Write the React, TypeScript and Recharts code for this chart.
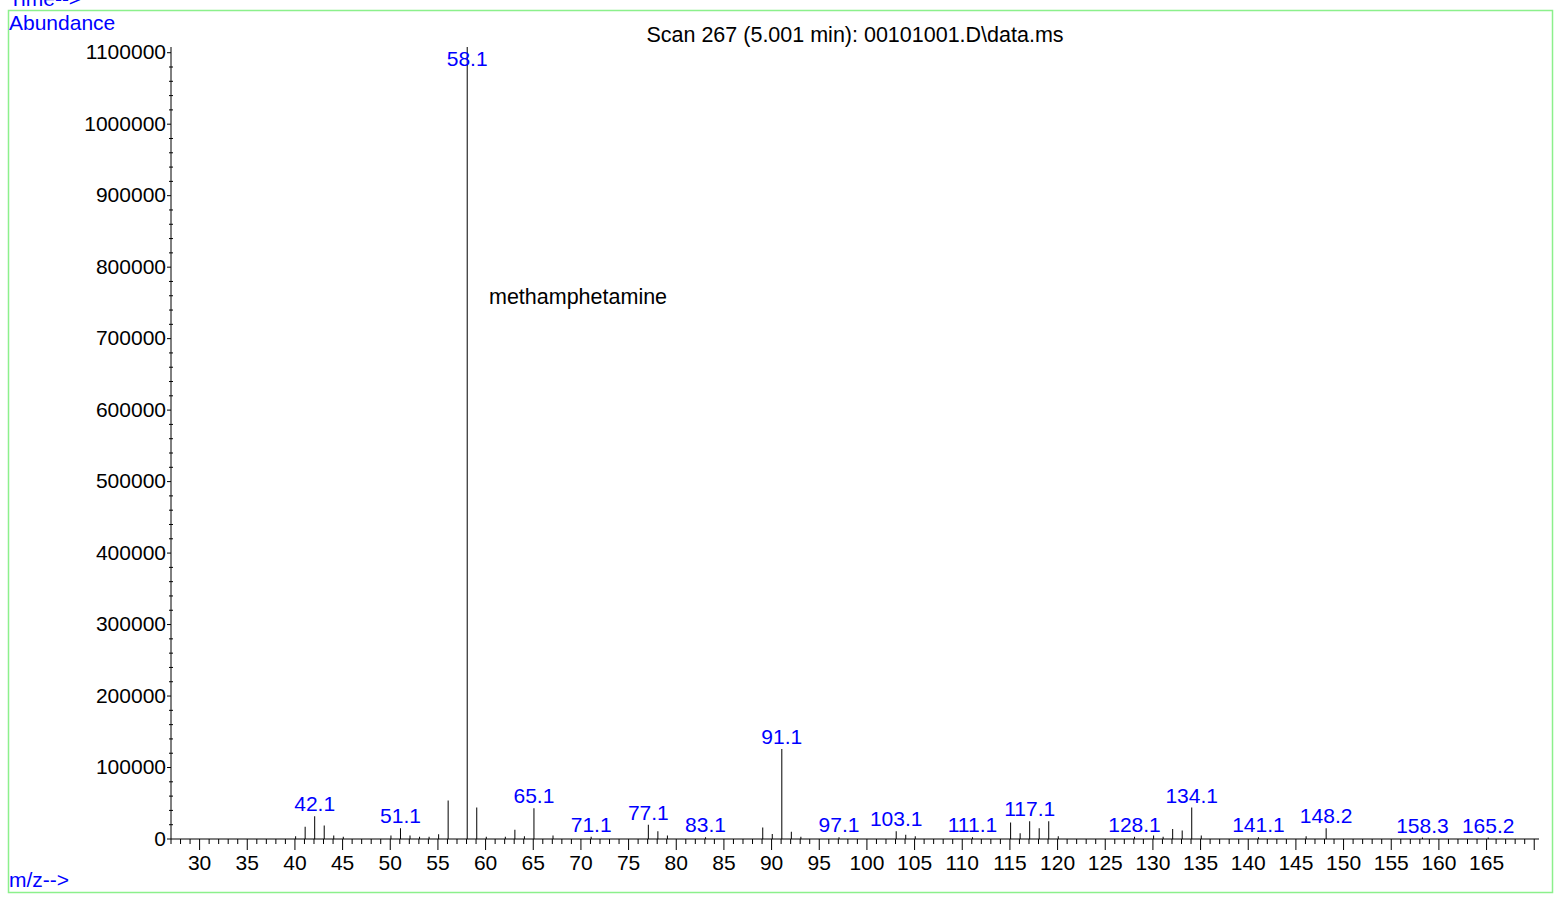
import React from 'react';
import { ComposedChart, Bar, XAxis, YAxis, LabelList } from 'recharts';

// m/z of each ion and its abundance
const mzValues = [
  40.1, 41.1, 42.1, 43.1, 44.1, 45.1, 50.1, 51.1, 52.1, 53.1, 54.1, 55.1, 56.1,
  58.1, 59.1, 60.1, 62.1, 63.1, 64.1, 65.1, 67.1, 71.1, 77.1, 78.1, 79.1, 83.1,
  89.1, 90.1, 91.1, 92.1, 93.1, 97.1, 103.1, 104.1, 105.1, 111.1, 115.1, 116.1,
  117.1, 118.1, 119.1, 120.1, 128.1, 130.1, 131.1, 132.1, 133.1, 134.1, 135.1,
  141.1, 146.1, 148.2, 158.3, 165.2,
];
const abundances = [
  4000, 17000, 32000, 19000, 5000, 3000, 5000, 15000, 5000, 3000, 3000, 6500, 54000,
  1108000, 44000, 3000, 3000, 13000, 4000, 43000, 5000, 3000, 20000, 10700, 5000, 2500,
  16000, 7000, 126000, 10000, 3000, 2500, 11000, 6000, 4000, 2500, 23000, 8000,
  25000, 15000, 25000, 4000, 3000, 5000, 3000, 14000, 12000, 44000, 5000,
  2500, 4000, 15000, 2000, 2000,
];
// ions that carry a label on the plot
const labelledIons = [
  42.1, 51.1, 58.1, 65.1, 71.1, 77.1, 83.1, 91.1, 97.1, 103.1, 111.1, 117.1,
  128.1, 134.1, 141.1, 148.2, 158.3, 165.2,
];

const xMajorTicks = [30, 35, 40, 45, 50, 55, 60, 65, 70, 75, 80, 85, 90, 95, 100,
  105, 110, 115, 120, 125, 130, 135, 140, 145, 150, 155, 160, 165];
const yMajorTicks = [0, 100000, 200000, 300000, 400000, 500000, 600000, 700000,
  800000, 900000, 1000000, 1100000];

const xTicks = Array.from({ length: 144 }, (_, i) => 27 + i);
const yTicks = Array.from({ length: 56 }, (_, i) => i * 20000);

const data = mzValues.map((mz, i) => ({
  mz,
  abundance: abundances[i],
  label: labelledIons.includes(mz) ? mz.toFixed(1) : '',
}));

const FONT = '"Liberation Sans", Arial, sans-serif';
const BLUE = '#0000ff';

const XTick = (props: any) => {
  const { x, y, payload } = props;
  const v = payload.value;
  const major = v % 5 === 0;
  return (
    <g>
      <line x1={x} y1={y} x2={x} y2={y + (major ? 11 : 5)} stroke="#000" strokeWidth={1} />
      {xMajorTicks.includes(v) && (
        <text x={x} y={y + 31} textAnchor="middle" fontSize={21} fontFamily={FONT} fill="#000">
          {v}
        </text>
      )}
    </g>
  );
};

const YTick = (props: any) => {
  const { x, y, payload } = props;
  const v = payload.value;
  const major = yMajorTicks.includes(v);
  return (
    <g>
      <line x1={major ? x - 4 : x - 2} y1={y} x2={major ? x : x + 2} y2={y} stroke="#000" strokeWidth={1} />
      {major && (
        <text x={x - 5} y={y + 6.5} textAnchor="end" fontSize={21} fontFamily={FONT} fill="#000">
          {v}
        </text>
      )}
    </g>
  );
};

const PeakLabel = (props: any) => {
  const { x, y, width, value } = props;
  if (!value) return null;
  const base = Math.max(y - 5, 66);
  return (
    <text x={x + width / 2} y={base} textAnchor="middle" fontSize={21} fontFamily={FONT} fill={BLUE}>
      {value}
    </text>
  );
};

export default function App() {
  return (
    <div style={{ position: 'absolute', left: 0, top: 0, width: 1559, height: 899, background: '#fff' }}>
      <ComposedChart
        width={1559}
        height={899}
        data={data}
        margin={{ top: 47, right: 20, bottom: 20, left: 71 }}
      >
        <XAxis
          type="number"
          dataKey="mz"
          domain={[27, 170.5]}
          ticks={xTicks}
          interval={0}
          tickSize={0}
          tickMargin={0}
          tickLine={false}
          axisLine={{ stroke: '#000', strokeWidth: 1 }}
          tick={<XTick />}
          height={40}
          allowDataOverflow
        />
        <YAxis
          type="number"
          domain={[0, 1108000]}
          ticks={yTicks}
          interval={0}
          tickSize={0}
          tickMargin={0}
          tickLine={false}
          axisLine={{ stroke: '#000', strokeWidth: 1 }}
          tick={<YTick />}
          width={100}
          allowDataOverflow
        />
        <Bar dataKey="abundance" fill="#000" barSize={1} isAnimationActive={false}>
          <LabelList dataKey="label" content={<PeakLabel />} />
        </Bar>
      </ComposedChart>
      <svg
        width={1559}
        height={899}
        style={{ position: 'absolute', left: 0, top: 0, pointerEvents: 'none' }}
      >
        <rect x={8.5} y={10.5} width={1544} height={882} fill="none" stroke="#8cf08c" strokeWidth={1.5} />
        <text x={9} y={6} fontSize={21} fontFamily={FONT} fill={BLUE}>Time--&gt;</text>
        <text x={9} y={30} fontSize={21} fontFamily={FONT} fill={BLUE}>Abundance</text>
        <text x={9} y={887} fontSize={21} fontFamily={FONT} fill={BLUE}>m/z--&gt;</text>
        <text x={855} y={42} textAnchor="middle" fontSize={21.5} fontFamily={FONT} fill="#000">
          Scan 267 (5.001 min): 00101001.D\data.ms
        </text>
        <text x={489} y={304} fontSize={21.5} fontFamily={FONT} fill="#000">methamphetamine</text>
      </svg>
    </div>
  );
}
